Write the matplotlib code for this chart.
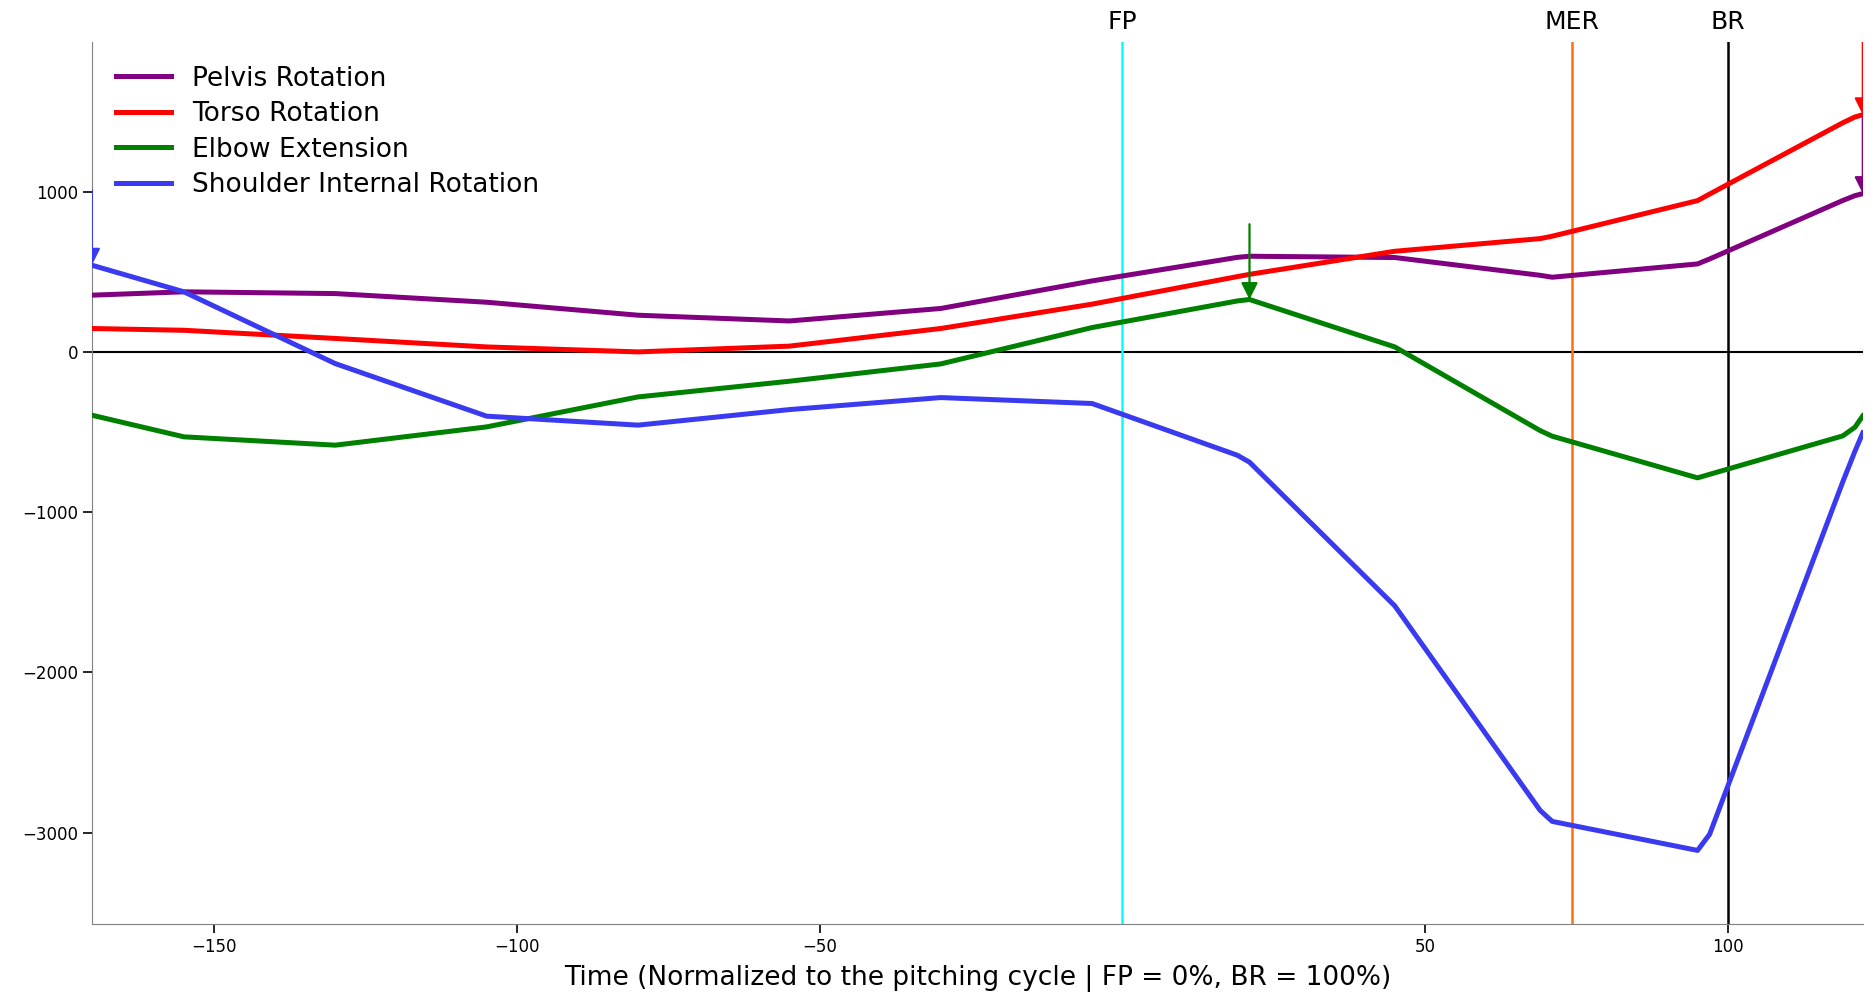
import numpy as np
import matplotlib
matplotlib.use("Agg")
import matplotlib.pyplot as plt
import matplotlib.transforms as mtransforms

# normalized time (FP = 0, BR = 100)
time = [-170.2, -155, -130, -105, -80, -55, -30, -5, 19, 21, 45, 69, 71, 95, 97, 119, 121, 122.3]

pelvis = [354, 375, 364, 310, 229, 193, 271, 443, 590, 597, 589, 478, 466, 549, 580, 945, 975, 988]
torso = [146, 135, 84, 31, 0, 36, 146, 298, 470, 484, 628, 707, 722, 944, 985, 1430, 1466, 1480]
elbow = [-395, -530, -582, -468, -281, -183, -75, 152, 318, 327, 31, -491, -526, -786, -764, -524, -470, -399]
shoulder = [541, 375, -73, -401, -457, -360, -285, -322, -645, -688, -1585, -2861, -2930, -3111, -3010, -810, -620, -505]

names = ["Pelvis Rotation", "Torso Rotation", "Elbow Extension", "Shoulder Internal Rotation"]
colors = ["purple", "red", "green", "#3a3af0"]
series = [pelvis, torso, elbow, shoulder]

events = ["FP", "MER", "BR"]
event_x = [0, 74.2, 100]
event_colors = ["cyan", "#ff7010", "black"]

arrow_len = 470  # arrow starts this far above the peak

fig = plt.figure(figsize=(18.75, 9.96), dpi=100)
ax = fig.add_axes([0.049, 0.072, 0.9445, 0.886])

ax.axhline(0, color="black", lw=1.5, zorder=1)

for ev, x, c in zip(events, event_x, event_colors):
    ax.axvline(x, color=c, lw=1.8, zorder=1)
    trans = mtransforms.blended_transform_factory(ax.transData, ax.transAxes)
    ax.text(x, 1.009, ev, transform=trans, ha="center", va="bottom", fontsize=18)

for name, vals, c in zip(names, series, colors):
    ax.plot(time, vals, color=c, lw=3.6, label=name, zorder=3)
    i = int(np.argmax(vals))
    ann = ax.annotate("", xy=(time[i], vals[i]), xytext=(time[i], vals[i] + arrow_len),
                      arrowprops=dict(arrowstyle="-|>", color=c, lw=1.6, mutation_scale=25,
                                      shrinkA=0, shrinkB=0),
                      annotation_clip=False, zorder=4)
    ann.arrow_patch.set_clip_box(ax.bbox)
    ann.arrow_patch.set_clip_on(True)

ax.set_xlim(-170.2, 122.3)
ax.set_ylim(-3572, 1935)
ax.set_xticks([-150, -100, -50, 50, 100])
ax.set_yticks([-3000, -2000, -1000, 0, 1000])
ax.tick_params(labelsize=12, length=6.5, width=1.2)

ax.spines["top"].set_visible(False)
ax.spines["right"].set_visible(False)
ax.spines["left"].set_color("gray")
ax.spines["bottom"].set_color("gray")

ax.set_xlabel("Time (Normalized to the pitching cycle | FP = 0%, BR = 100%)", fontsize=19, labelpad=6)
ax.legend(loc="upper left", frameon=False, fontsize=19, handlelength=2.1, labelspacing=0.36)

fig.savefig("out.png", dpi=100)
